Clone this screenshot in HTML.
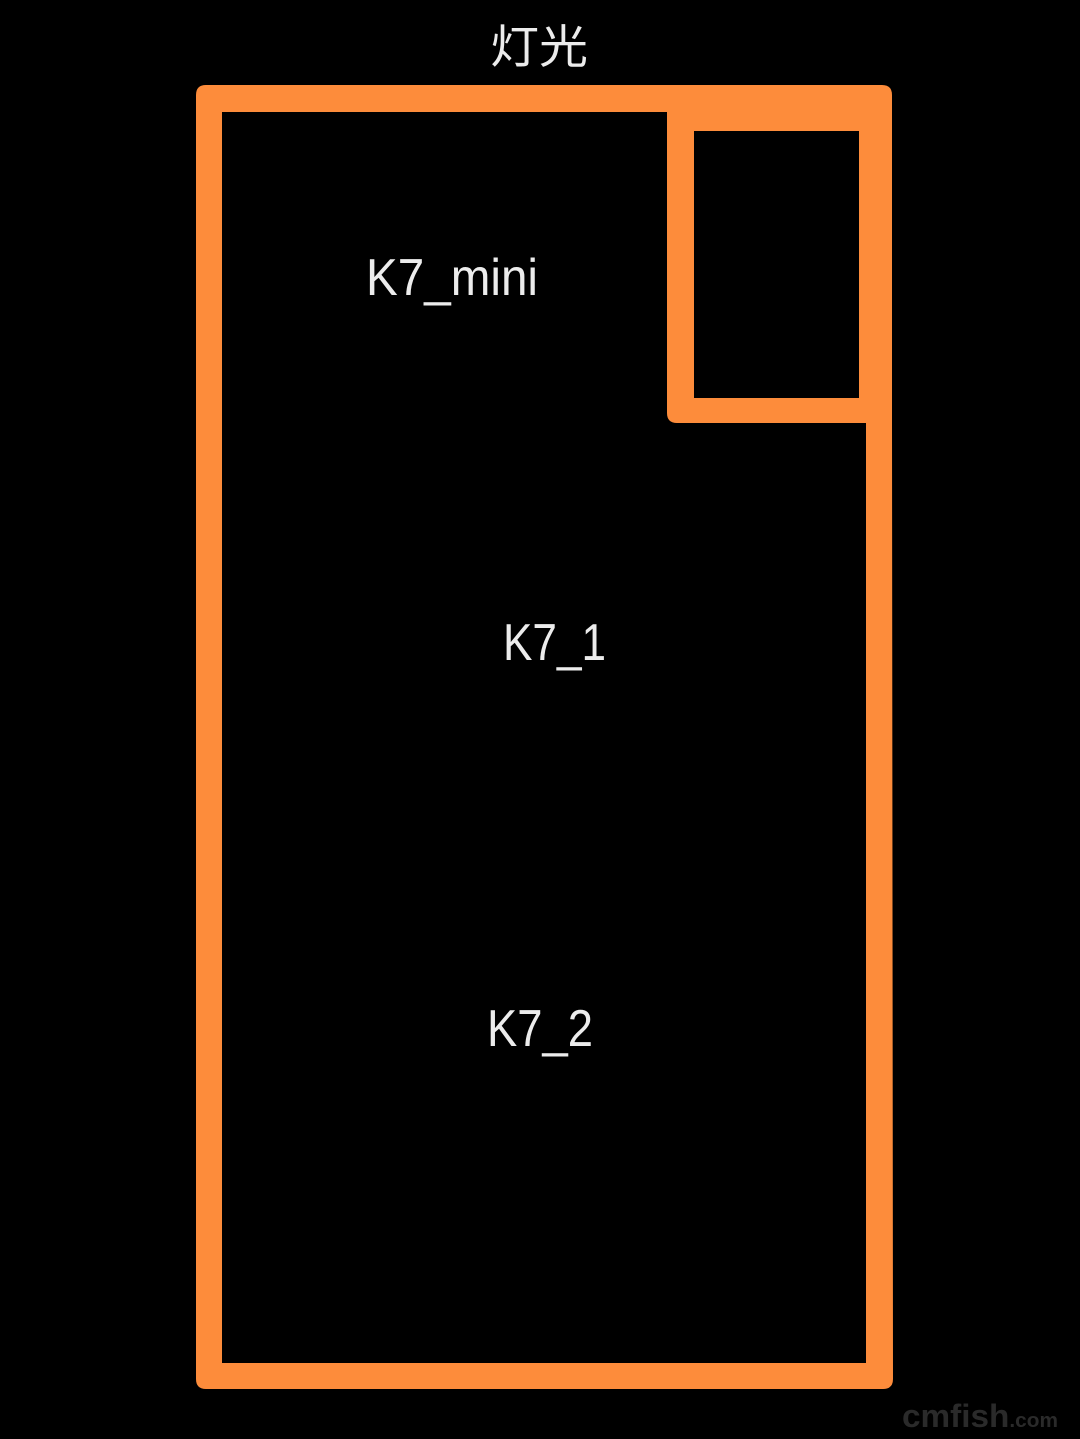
<!DOCTYPE html>
<html><head><meta charset="utf-8"><style>
html,body{margin:0;padding:0;background:#000;width:1080px;height:1439px;overflow:hidden}
svg{display:block}
text{font-family:"Liberation Sans","Noto Sans CJK SC",sans-serif;fill:#ececec}
</style></head><body>
<svg width="1080" height="1439" viewBox="0 0 1080 1439">
<rect width="1080" height="1439" fill="#000"/>
<path fill="#FD8C3B" fill-rule="evenodd" d="
M206,85 H882 Q892,85 892,95 V423 H892 L893,1379 Q893,1389 883,1389 H206 Q196,1389 196,1379 V95 Q196,85 206,85 Z
M222,112 V1363 H866 V423 H677 Q667,423 667,413 V112 Z
M694,131 V398 H859 V131 Z"/>
<text x="490" y="63" font-size="46" textLength="98" lengthAdjust="spacingAndGlyphs">灯光</text>
<text x="366" y="295" font-size="52" textLength="172" lengthAdjust="spacingAndGlyphs">K7_mini</text>
<text x="503" y="660" font-size="52" textLength="103" lengthAdjust="spacingAndGlyphs">K7_1</text>
<text x="487" y="1046" font-size="52" textLength="106" lengthAdjust="spacingAndGlyphs">K7_2</text>
<text x="902" y="1427" font-size="32" font-weight="bold" font-family="Liberation Serif,serif" style="fill:#2a2a2a" textLength="156" lengthAdjust="spacingAndGlyphs">cmfish<tspan font-size="20">.com</tspan></text>
</svg>
</body></html>
